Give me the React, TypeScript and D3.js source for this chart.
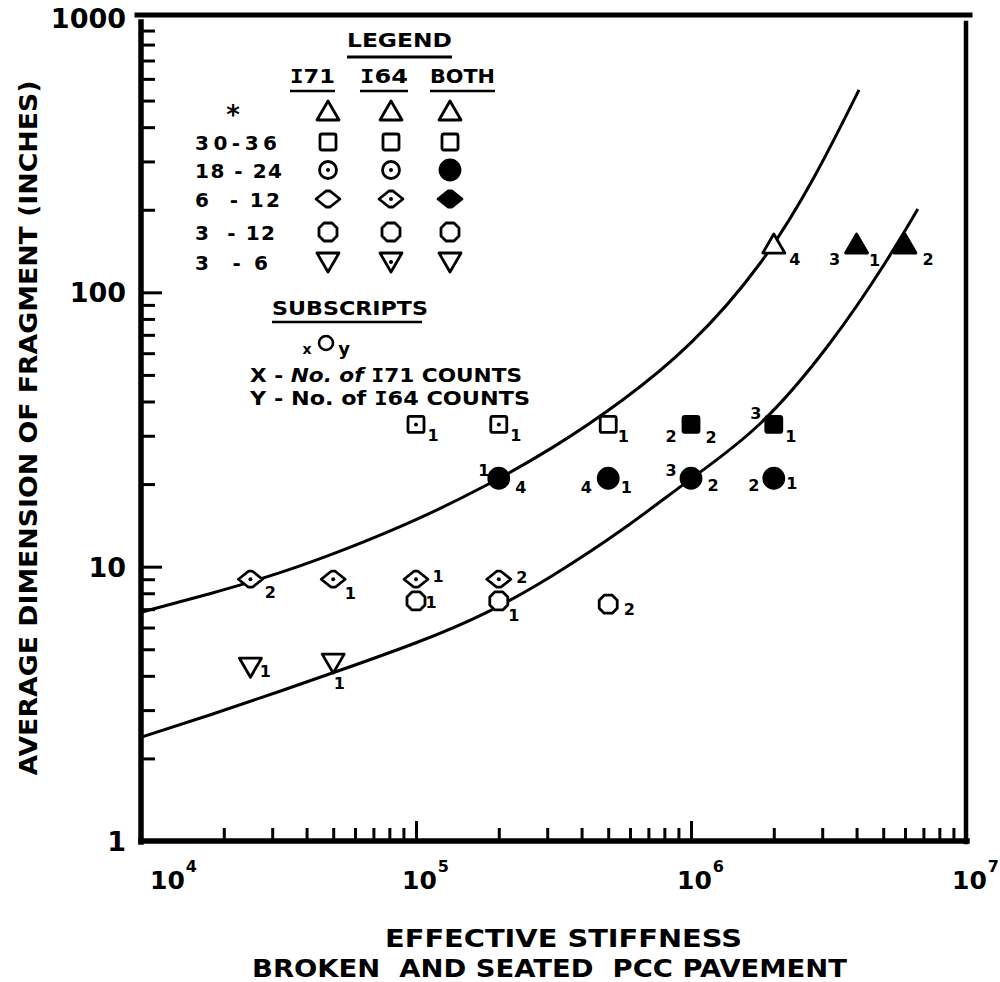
import React, { useEffect, useRef } from "react";
import * as d3 from "d3";

// ---------------- data ----------------
const xDecades = [1e4, 1e5, 1e6, 1e7];
const xDecadeExponents = ["4", "5", "6", "7"];
const yDecades = [1, 10, 100, 1000];
const yDecadeLabels = ["1", "10", "100", "1000"];

const upperCurveStiffness = [1e4, 1.778e4, 3.162e4, 5.623e4, 1e5, 1.778e5, 3.162e5, 5.623e5, 1e6, 1.778e6, 2.818e6, 4.083e6];
const upperCurveDimension = [6.82, 7.97, 9.47, 11.66, 14.84, 19.68, 27.33, 40.42, 65.54, 127.1, 265.5, 547];
const lowerCurveStiffness = [1e4, 1.778e4, 3.162e4, 5.623e4, 1e5, 1.778e5, 3.162e5, 5.623e5, 1e6, 1.778e6, 3.162e6, 5.012e6, 6.683e6];
const lowerCurveDimension = [2.39, 2.88, 3.5, 4.28, 5.28, 6.76, 9.33, 13.65, 20.89, 33.11, 64.27, 125.3, 201.4];

type Fill = "open" | "dot" | "filled";
type Obs = { x: number; y: number; fill: Fill; pre: string; post: string };

// "*" size class
const triangleObs: Obs[] = [
  { x: 2e6, y: 150, fill: "open", pre: "", post: "4" },
  { x: 4e6, y: 150, fill: "filled", pre: "3", post: "1" },
  { x: 6e6, y: 150, fill: "filled", pre: "", post: "2" },
];
// 30-36
const squareObs: Obs[] = [
  { x: 1e5, y: 33, fill: "dot", pre: "", post: "1" },
  { x: 2e5, y: 33, fill: "dot", pre: "", post: "1" },
  { x: 5e5, y: 33, fill: "open", pre: "", post: "1" },
  { x: 1e6, y: 33, fill: "filled", pre: "2", post: "2" },
  { x: 2e6, y: 33, fill: "filled", pre: "3", post: "1" },
];
// 18-24
const circleObs: Obs[] = [
  { x: 2e5, y: 21, fill: "filled", pre: "1", post: "4" },
  { x: 5e5, y: 21, fill: "filled", pre: "4", post: "1" },
  { x: 1e6, y: 21, fill: "filled", pre: "3", post: "2" },
  { x: 2e6, y: 21, fill: "filled", pre: "2", post: "1" },
];
// 6-12
const diamondObs: Obs[] = [
  { x: 2.5e4, y: 9, fill: "dot", pre: "", post: "2" },
  { x: 5e4, y: 9, fill: "dot", pre: "", post: "1" },
  { x: 1e5, y: 9, fill: "dot", pre: "", post: "1" },
  { x: 2e5, y: 9, fill: "dot", pre: "", post: "2" },
];
// 3-12
const hexagonObs: Obs[] = [
  { x: 1e5, y: 7.5, fill: "open", pre: "", post: "1" },
  { x: 2e5, y: 7.5, fill: "open", pre: "", post: "1" },
  { x: 5e5, y: 7.3, fill: "open", pre: "", post: "2" },
];
// 3-6
const invTriangleObs: Obs[] = [
  { x: 2.5e4, y: 4.3, fill: "open", pre: "", post: "1" },
  { x: 5e4, y: 4.45, fill: "open", pre: "", post: "1" },
];

// legend
const legendTitle = "LEGEND";
const legendColumns = ["I71", "I64", "BOTH"];
const legendRowLabels = ["*", "30-36", "18 - 24", "6  - 12", "3  - 12", "3  - 6"];
const legendShapes = ["tri", "square", "circle", "diamond", "hexagon", "invtri"];
const legendFills: Fill[][] = [
  ["open", "open", "open"],
  ["open", "open", "open"],
  ["dot", "dot", "filled"],
  ["open", "dot", "filled"],
  ["open", "open", "open"],
  ["open", "dot", "open"],
];
const subscriptTitle = "SUBSCRIPTS";
const subscriptLines = [
  ["X - ", "No. of", " I71 COUNTS"],
  ["Y - ", "No. of", " I64 COUNTS"],
];
const yTitle = "AVERAGE DIMENSION OF FRAGMENT (INCHES)";
const xTitleLines = ["EFFECTIVE STIFFNESS", "BROKEN  AND SEATED  PCC PAVEMENT"];

// ---------------- layout (label offsets in px: [preDx, preDy, postDx, postDy]) ----------------
const triangleLabelPlace = [[0, 0, 21, 15], [-22, 15, 18, 16], [0, 0, 23, 15]];
const squareLabelPlace = [[0, 0, 17, 11], [0, 0, 17, 11], [0, 0, 15, 12], [-20, 12, 20, 13], [-18, -11, 17, 12]];
const circleLabelPlace = [[-15, -8, 22, 9], [-22, 9, 18, 9], [-20, -8, 22, 7], [-20, 7, 18, 5]];
const diamondLabelPlace = [[0, 0, 20, 13], [0, 0, 17, 14], [0, 0, 22, -3], [0, 0, 23, -2]];
const hexagonLabelPlace = [[0, 0, 15, 2], [0, 0, 15, 15], [0, 0, 21, 5]];
const invTriangleLabelPlace = [[0, 0, 15, 4], [0, 0, 6, 20]];
const legendRowWidths = [0, 82, 87, 85, 80, 73];

const FONT = "'DejaVu Sans', 'Liberation Sans', sans-serif";
const MONO = "'DejaVu Sans Mono', monospace";

function drawMarker(g: any, shape: string, fill: Fill, cx: number, cy: number) {
  const grp = g.append("g").attr("transform", `translate(${cx},${cy})`);
  const fc = fill === "filled" ? "#000" : "#fff";
  const sw = 2.8;
  let el: any;
  if (shape === "tri") el = grp.append("path").attr("d", "M0,-10 L11,9 L-11,9 Z");
  else if (shape === "invtri") el = grp.append("path").attr("d", "M-11,-9 L11,-9 L0,10 Z");
  else if (shape === "square") el = grp.append("rect").attr("x", -8).attr("y", -8).attr("width", 16).attr("height", 16).attr("rx", 2);
  else if (shape === "circle") el = grp.append("circle").attr("r", fill === "filled" ? 10 : 8.5);
  else if (shape === "diamond") el = grp.append("path").attr("d", "M-12,0 L-2,-8 L2,-8 L12,0 L2,8 L-2,8 Z");
  else el = grp.append("path").attr("d", "M-4,-9 L4,-9 L9,-4 L9,4 L4,9 L-4,9 L-9,4 L-9,-4 Z");
  el.attr("fill", fc).attr("stroke", "#000").attr("stroke-width", sw).attr("stroke-linejoin", "round");
  if (fill === "dot") grp.append("circle").attr("r", 2).attr("fill", "#000");
}

export default function App() {
  const ref = useRef<SVGSVGElement>(null);

  useEffect(() => {
    const svg = d3.select(ref.current);
    svg.selectAll("*").remove();

    const X = d3.scaleLog().domain([1e4, 1e7]).range([141, 966]);
    const Y = d3.scaleLog().domain([1, 1000]).range([841, 18]);

    // curves
    const line = d3
      .line<[number, number]>()
      .x((d) => X(d[0]))
      .y((d) => Y(d[1]))
      .curve(d3.curveNatural);
    const curves = [
      d3.zip(upperCurveStiffness, upperCurveDimension) as [number, number][],
      d3.zip(lowerCurveStiffness, lowerCurveDimension) as [number, number][],
    ];
    svg
      .append("g")
      .selectAll("path")
      .data(curves)
      .join("path")
      .attr("d", (d) => line(d))
      .attr("fill", "none")
      .attr("stroke", "#000")
      .attr("stroke-width", 3);

    // ticks
    const yMinor = Y.ticks().filter((v) => !yDecades.includes(v));
    const xMinor = X.ticks().filter((v) => !xDecades.includes(v));
    const styleTicks = (g: any) => {
      g.select(".domain").remove();
      g.selectAll("line").attr("stroke", "#000").attr("stroke-width", 3);
    };
    svg.append("g").attr("transform", "translate(141,0)")
      .call(d3.axisLeft(Y).tickValues(yMinor).tickSize(-14).tickFormat(() => ""))
      .call(styleTicks);
    svg.append("g").attr("transform", "translate(141,0)")
      .call(d3.axisLeft(Y).tickValues(yDecades.slice(1, 3)).tickSize(-21).tickFormat(() => ""))
      .call(styleTicks);
    svg.append("g").attr("transform", "translate(0,841)")
      .call(d3.axisBottom(X).tickValues(xMinor).tickSize(-13).tickFormat(() => ""))
      .call(styleTicks);
    svg.append("g").attr("transform", "translate(0,841)")
      .call(d3.axisBottom(X).tickValues(xDecades.slice(1, 3)).tickSize(-20).tickFormat(() => ""))
      .call(styleTicks);

    // frame
    const frame = svg.append("g").attr("stroke", "#000").attr("stroke-linecap", "square");
    frame.append("line").attr("x1", 137).attr("x2", 970).attr("y1", 15).attr("y2", 15).attr("stroke-width", 5);
    frame.append("line").attr("x1", 141).attr("x2", 141).attr("y1", 22).attr("y2", 842).attr("stroke-width", 5.5);
    frame.append("line").attr("x1", 141).attr("x2", 967).attr("y1", 841).attr("y2", 841).attr("stroke-width", 5.5);
    frame.append("line").attr("x1", 966).attr("x2", 966).attr("y1", 23).attr("y2", 842).attr("stroke-width", 4.5);

    // y tick labels
    svg.append("g").selectAll("text").data(yDecades).join("text")
      .attr("x", 126).attr("y", (d) => Y(d) + 10)
      .attr("text-anchor", "end").attr("font-family", FONT).attr("font-weight", "bold")
      .attr("font-size", 27).text((d, i) => yDecadeLabels[i]);

    // x tick labels (10 with superscript exponent, one text element each)
    const xl = svg.append("g").attr("font-family", FONT).attr("font-weight", "bold");
    xDecades.forEach((v, i) => {
      const px = X(v);
      const start = i === 0 ? px + 9 : px - 14;
      const t = xl.append("text").attr("x", start).attr("y", 889).attr("font-size", 25);
      t.append("tspan").text("10");
      t.append("tspan").attr("dy", -17).attr("dx", 1).attr("font-size", 16).text(xDecadeExponents[i]);
    });

    // axis titles
    svg.append("text")
      .attr("transform", "translate(28,428) rotate(-90)")
      .attr("text-anchor", "middle").attr("dominant-baseline", "central")
      .attr("font-family", FONT).attr("font-weight", "bold").attr("font-size", 25)
      .attr("textLength", 695).attr("lengthAdjust", "spacingAndGlyphs")
      .text(yTitle);
    svg.append("text").attr("x", 385).attr("y", 947)
      .attr("font-family", FONT).attr("font-weight", "bold").attr("font-size", 25)
      .attr("textLength", 357).attr("lengthAdjust", "spacingAndGlyphs").text(xTitleLines[0]);
    svg.append("text").attr("x", 252).attr("y", 977).attr("xml:space", "preserve")
      .style("white-space", "pre")
      .attr("font-family", FONT).attr("font-weight", "bold").attr("font-size", 25)
      .attr("textLength", 595).attr("lengthAdjust", "spacingAndGlyphs").text(xTitleLines[1]);

    // observations
    const groups: [string, Obs[], number[][]][] = [
      ["tri", triangleObs, triangleLabelPlace],
      ["square", squareObs, squareLabelPlace],
      ["circle", circleObs, circleLabelPlace],
      ["diamond", diamondObs, diamondLabelPlace],
      ["hexagon", hexagonObs, hexagonLabelPlace],
      ["invtri", invTriangleObs, invTriangleLabelPlace],
    ];
    const pts = svg.append("g");
    const labs = svg.append("g").attr("font-family", FONT).attr("font-weight", "bold")
      .attr("font-size", 16).attr("text-anchor", "middle").attr("dominant-baseline", "central");
    groups.forEach(([shape, obs, place]) => {
      obs.forEach((o, i) => {
        const cx = X(o.x), cy = Y(o.y);
        drawMarker(pts, shape, o.fill, cx, cy);
        const p = place[i];
        if (o.pre) labs.append("text").attr("x", cx + p[0]).attr("y", cy + p[1]).text(o.pre);
        if (o.post) labs.append("text").attr("x", cx + p[2]).attr("y", cy + p[3]).text(o.post);
      });
    });

    // legend
    const lg = svg.append("g").attr("font-family", FONT).attr("font-weight", "bold");
    lg.append("text").attr("x", 347).attr("y", 47).attr("font-size", 20)
      .attr("textLength", 105).attr("lengthAdjust", "spacingAndGlyphs").text(legendTitle);
    lg.append("line").attr("x1", 347).attr("x2", 452).attr("y1", 57).attr("y2", 57).attr("stroke", "#000").attr("stroke-width", 3);
    const colX = [328, 391, 450];
    const colHead = [[290, 335], [360, 408], [430, 495]];
    legendColumns.forEach((c, i) => {
      const t = lg.append("text").attr("x", colHead[i][0]).attr("y", 83).attr("font-size", 20)
        .attr("textLength", colHead[i][1] - colHead[i][0]).attr("lengthAdjust", "spacingAndGlyphs");
      if (c.startsWith("I")) {
        t.append("tspan").attr("font-family", MONO).text("I");
        t.append("tspan").text(c.slice(1));
      } else t.text(c);
      lg.append("line").attr("x1", colHead[i][0]).attr("x2", colHead[i][1]).attr("y1", 91).attr("y2", 91)
        .attr("stroke", "#000").attr("stroke-width", 2.5);
    });
    const rowY = [111, 142, 170, 199, 232, 262];
    legendRowLabels.forEach((lab, r) => {
      const y = rowY[r];
      if (lab === "*") {
        lg.append("text").attr("x", 233).attr("y", y + 13).attr("text-anchor", "middle")
          .attr("font-size", 26).text("*");
      } else {
        lg.append("text").attr("x", 195).attr("y", y + 8).attr("font-size", 20)
          .attr("xml:space", "preserve").style("white-space", "pre")
          .attr("textLength", legendRowWidths[r]).attr("lengthAdjust", "spacing").text(lab);
      }
      legendFills[r].forEach((f, c) => drawMarker(lg, legendShapes[r], f, colX[c], y));
    });

    // subscripts
    lg.append("text").attr("x", 272).attr("y", 315).attr("font-size", 20)
      .attr("textLength", 156).attr("lengthAdjust", "spacingAndGlyphs").text(subscriptTitle);
    lg.append("line").attr("x1", 272).attr("x2", 422).attr("y1", 322).attr("y2", 322).attr("stroke", "#000").attr("stroke-width", 2.5);
    lg.append("text").attr("x", 307).attr("y", 354).attr("text-anchor", "middle").attr("font-size", 14).text("x");
    lg.append("circle").attr("cx", 326).attr("cy", 343).attr("r", 7).attr("fill", "none").attr("stroke", "#000").attr("stroke-width", 2.5);
    lg.append("text").attr("x", 344).attr("y", 355).attr("text-anchor", "middle").attr("font-size", 18).text("y");
    const subEnds = [522, 530];
    subscriptLines.forEach((parts, i) => {
      const t = lg.append("text").attr("x", 250).attr("y", 382 + i * 23).attr("font-size", 19)
        .attr("xml:space", "preserve").style("white-space", "pre")
        .attr("textLength", subEnds[i] - 250).attr("lengthAdjust", "spacingAndGlyphs");
      t.append("tspan").text(parts[0]);
      t.append("tspan").attr("font-style", i === 0 ? "italic" : "normal").text(parts[1]);
      const rest = parts[2];
      t.append("tspan").text(" ");
      t.append("tspan").attr("font-family", MONO).text("I");
      t.append("tspan").text(rest.slice(2));
    });
  }, []);

  return (
    <svg
      ref={ref}
      width={1000}
      height={982}
      viewBox="0 0 1000 982"
      style={{ position: "absolute", left: 0, top: 0, background: "#fff" }}
    />
  );
}
